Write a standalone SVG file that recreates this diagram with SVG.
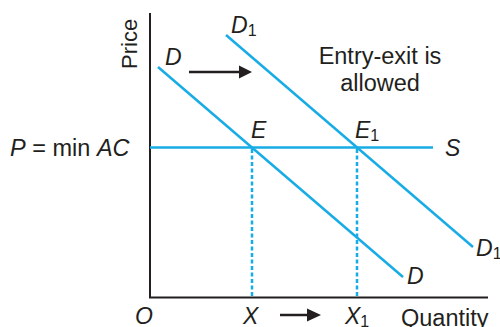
<svg xmlns="http://www.w3.org/2000/svg" width="500" height="327" viewBox="0 0 500 327">
<style>
text{font-family:"Liberation Sans",Arial,sans-serif;font-size:23px;fill:#231f20}
.w{font-size:23.5px}
.i{font-style:italic}
.sub{font-size:16px;font-style:normal}
.blue{stroke:#17ace6;stroke-width:2.5;fill:none}
.dash{stroke:#17ace6;stroke-width:2.5;stroke-dasharray:4 2.5;fill:none}
.axis{stroke:#231f20;stroke-width:2;fill:none}
.arr{stroke:#231f20;stroke-width:2.5;fill:none}
</style>
<rect width="500" height="327" fill="#fff"/>
<g id="axes">
<path class="axis" d="M150,13 V297.5 H488"/>
<text transform="translate(137,69) rotate(-90)" style="font-size:22px">Price</text>
<text class="w" x="401" y="325.5">Quantity</text>
<text class="i" x="135" y="324">O</text>
</g>
<g id="connectors">
<path id="D" class="blue" d="M158,67 L403,277"/>
<path id="D1" class="blue" d="M226,35 L473,247"/>
<path id="S" class="blue" d="M150,147.5 H433"/>
<path class="dash" d="M252,149 V297"/>
<path class="dash" d="M357,149 V297"/>
<path class="arr" d="M189,72 H241"/>
<polygon points="239,65.5 252,72 239,78.5" fill="#231f20"/>
<path class="arr" d="M280,315 H309"/>
<polygon points="307,308.5 321,315 307,321.5" fill="#231f20"/>
</g>
<g id="labels">
<text class="i" x="165" y="65">D</text>
<text class="i" x="231" y="33">D<tspan class="sub" dy="3">1</tspan></text>
<text class="w" x="380" y="64" text-anchor="middle">Entry-exit is</text>
<text class="w" x="380" y="91" text-anchor="middle">allowed</text>
<text class="w" x="10" y="156"><tspan class="i">P</tspan> = min <tspan class="i">AC</tspan></text>
<text class="i" x="251" y="138">E</text>
<text class="i" x="355" y="138">E<tspan class="sub" dy="3">1</tspan></text>
<text class="i" x="445" y="156">S</text>
<text class="i" x="407" y="284">D</text>
<text class="i" x="476" y="256">D<tspan class="sub" dy="3">1</tspan></text>
<text class="i" x="243" y="324">X</text>
<text class="i" x="345" y="324">X<tspan class="sub" dy="3">1</tspan></text>
</g>
</svg>
